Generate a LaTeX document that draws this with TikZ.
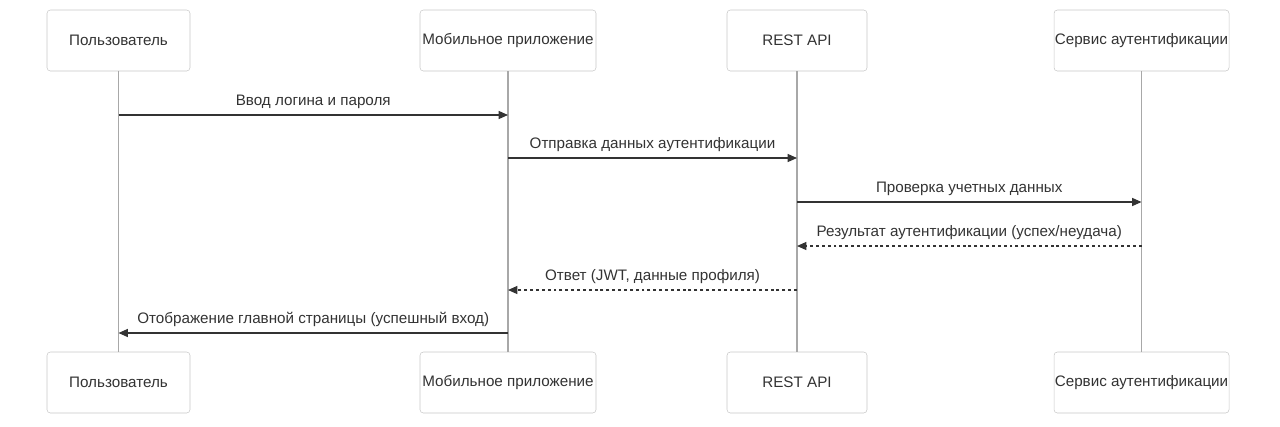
\documentclass[tikz,border=0pt]{standalone}
\usepackage{fontspec}
\setmainfont{Liberation Sans}
\usetikzlibrary{arrows.meta}
\definecolor{boxline}{HTML}{C8C8C8}
\definecolor{lifegray}{HTML}{A8A8A8}
\definecolor{msgcol}{HTML}{333333}
\tikzset{
	actor/.style={draw=boxline, rounded corners=2.5pt, fill=white, text=msgcol,
		minimum height=45.75pt, inner sep=0pt, font=\fontsize{11.4pt}{13pt}\selectfont},
	lifeline/.style={draw=lifegray, line width=0.9pt},
	msg/.style={draw=msgcol, line width=0.9pt, -{Triangle[length=7pt,width=6pt]}},
	reply/.style={msg, dash pattern=on 2.2pt off 2.2pt},
	msglabel/.style={above=4pt, text=msgcol, inner sep=0pt, font=\fontsize{11.4pt}{13pt}\selectfont}
}
\begin{document}
\begin{tikzpicture}[x=0.75pt,y=-0.75pt]
	\useasboundingbox (0,0) rectangle (1280,426);
	
	%participants, top and bottom, with their lifelines
	\foreach \name/\x/\w/\txt in {user/118.5/107.25pt/Пользователь,
		app/508/132pt/Мобильное приложение,
		api/797/105pt/REST API,
		auth/1141.5/131.25pt/Сервис аутентификации} {
		\node[actor, minimum width=\w] (\name-top) at (\x,40.5) {\txt};
		\node[actor, minimum width=\w] (\name-bot) at (\x,382.5) {\txt};
		\draw[lifeline] (\name-top) -- (\name-bot);
	}
	
	%message points on the lifelines
	\coordinate (m1a) at (user-top.south |- 0,115);
	\coordinate (m1b) at (app-top.south |- 0,115);
	\coordinate (m2a) at (app-top.south |- 0,158);
	\coordinate (m2b) at (api-top.south |- 0,158);
	\coordinate (m3a) at (api-top.south |- 0,202);
	\coordinate (m3b) at (auth-top.south |- 0,202);
	\coordinate (m4a) at (auth-top.south |- 0,246);
	\coordinate (m4b) at (api-top.south |- 0,246);
	\coordinate (m5a) at (api-top.south |- 0,290);
	\coordinate (m5b) at (app-top.south |- 0,290);
	\coordinate (m6a) at (app-top.south |- 0,333);
	\coordinate (m6b) at (user-top.south |- 0,333);
	
	%messages
	\draw[msg] (m1a) -- node[msglabel] {Ввод логина и пароля} (m1b);
	\draw[msg] (m2a) -- node[msglabel] {Отправка данных аутентификации} (m2b);
	\draw[msg] (m3a) -- node[msglabel] {Проверка учетных данных} (m3b);
	\draw[reply] (m4a) -- node[msglabel] {Результат аутентификации (успех/неудача)} (m4b);
	\draw[reply] (m5a) -- node[msglabel] {Ответ (JWT, данные профиля)} (m5b);
	\draw[msg] (m6a) -- node[msglabel] {Отображение главной страницы (успешный вход)} (m6b);
\end{tikzpicture}
\end{document}
